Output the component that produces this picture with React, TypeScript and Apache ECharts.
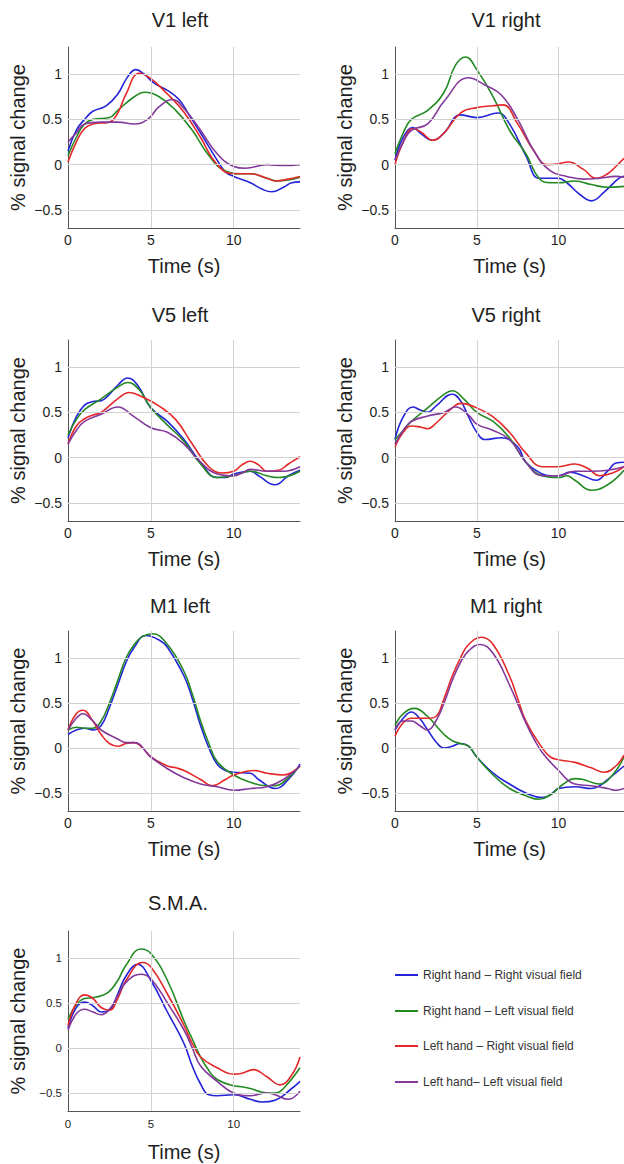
import { useEffect, useRef } from "react";
import * as echarts from "echarts";

const SERIES_NAMES = [
  "Right hand – Right visual field",
  "Right hand – Left visual field",
  "Left hand – Right visual field",
  "Left hand– Left visual field",
];
const SERIES_COLORS = ["#2424d8", "#238a23", "#e42828", "#83389a"];

const PANEL_TITLES = ["V1 left", "V1 right", "V5 left", "V5 right", "M1 left", "M1 right", "S.M.A."];
const Y_TICKS = [-0.5, 0, 0.5, 1];
const X_GRID = [5, 10];

// [time (s), % signal change]
const V1L_BLUE = [[0,0.15],[0.5,0.38],[1,0.5],[1.5,0.59],[2.3,0.65],[3,0.78],[3.6,0.97],[4.1,1.05],[4.6,1.0],[5.2,0.9],[6,0.82],[6.7,0.72],[7.3,0.55],[8,0.35],[9,0.05],[9.5,-0.08],[10,-0.13],[11,-0.2],[11.7,-0.27],[12.3,-0.3],[13,-0.25],[13.5,-0.2],[14,-0.19]];
const V1L_GREEN = [[0,0.1],[0.5,0.3],[1,0.45],[1.5,0.5],[2.5,0.52],[3,0.6],[4,0.75],[4.6,0.8],[5.5,0.75],[6.5,0.6],[7.5,0.38],[8.5,0.1],[9.5,-0.07],[10.5,-0.1],[11,-0.1],[12,-0.15],[12.6,-0.18],[13.3,-0.17],[14,-0.14]];
const V1L_RED = [[0,0.03],[0.5,0.25],[1,0.4],[1.5,0.45],[2.5,0.47],[3,0.57],[3.5,0.78],[4.3,1.01],[5,0.95],[6,0.78],[7,0.58],[8,0.3],[9,0.0],[10,-0.1],[11,-0.1],[12,-0.15],[12.5,-0.18],[13.3,-0.16],[14,-0.13]];
const V1L_PURPLE = [[0,0.25],[0.5,0.35],[1,0.45],[2,0.47],[3,0.47],[4,0.45],[4.8,0.5],[5.5,0.64],[6.3,0.72],[7,0.62],[8,0.38],[9,0.12],[10,-0.02],[10.7,-0.04],[12,0.0],[13,-0.01],[14,0.0]];

const V1R_BLUE = [[0,0.05],[0.5,0.3],[1.1,0.41],[1.6,0.34],[2.3,0.27],[3,0.35],[4,0.55],[5,0.52],[6.3,0.57],[7,0.45],[8,0.1],[8.8,-0.15],[9.5,-0.15],[10,-0.15],[10.5,-0.2],[11.3,-0.33],[12,-0.4],[12.8,-0.3],[13.7,-0.15],[14,-0.13]];
const V1R_GREEN = [[0,0.12],[0.5,0.35],[1,0.5],[2,0.6],[3,0.8],[3.7,1.1],[4.3,1.19],[5,1.05],[6,0.75],[7,0.38],[8,0.12],[8.8,-0.15],[9.5,-0.2],[10,-0.2],[11,-0.18],[12,-0.22],[13,-0.25],[14,-0.24]];
const V1R_RED = [[0,0.0],[0.5,0.25],[1.1,0.4],[1.6,0.36],[2.3,0.27],[3,0.35],[4,0.57],[5,0.63],[6,0.65],[6.6,0.66],[7.5,0.45],[8.5,0.15],[9.3,0.0],[10,0.01],[10.6,0.03],[11.5,-0.05],[12.3,-0.15],[13,-0.1],[13.5,-0.02],[14,0.07]];
const V1R_PURPLE = [[0,0.05],[0.5,0.25],[1,0.38],[2,0.45],[3,0.7],[4.5,0.96],[5.5,0.88],[6.5,0.77],[7.5,0.5],[8.5,0.15],[9.5,-0.07],[10.5,-0.13],[11.5,-0.16],[12.5,-0.15],[13.5,-0.13],[14,-0.14]];

const V5L_BLUE = [[0,0.22],[0.5,0.45],[1,0.58],[1.5,0.62],[2,0.63],[2.5,0.7],[3,0.8],[3.6,0.88],[4.2,0.8],[5,0.55],[6,0.4],[7,0.2],[8,-0.05],[9,-0.22],[9.5,-0.22],[10,-0.18],[11,-0.15],[11.5,-0.2],[12.5,-0.3],[13.3,-0.2],[14,-0.14]];
const V5L_GREEN = [[0,0.25],[0.5,0.42],[1,0.53],[2,0.65],[3,0.78],[3.6,0.83],[4.3,0.75],[5,0.55],[6,0.36],[7,0.18],[8,-0.07],[9,-0.22],[10,-0.2],[11,-0.15],[12,-0.2],[12.7,-0.22],[14,-0.15]];
const V5L_RED = [[0,0.15],[0.5,0.35],[1,0.43],[1.5,0.47],[2,0.5],[3,0.65],[3.7,0.72],[4.5,0.67],[5.5,0.57],[6.5,0.42],[7.5,0.15],[8.5,-0.1],[9.3,-0.17],[10,-0.15],[10.5,-0.08],[11,-0.04],[11.5,-0.08],[12,-0.15],[12.7,-0.14],[13.3,-0.07],[14,0.01]];
const V5L_PURPLE = [[0,0.15],[0.5,0.3],[1,0.4],[2,0.48],[3,0.56],[4,0.45],[5,0.33],[6,0.28],[7,0.15],[8,-0.05],[9,-0.18],[10,-0.2],[10.5,-0.17],[11,-0.13],[12,-0.15],[13,-0.15],[14,-0.1]];

const V5R_BLUE = [[0,0.2],[0.5,0.45],[1.1,0.56],[1.5,0.53],[2,0.5],[2.5,0.57],[3.5,0.7],[4,0.63],[4.5,0.45],[5,0.28],[5.5,0.2],[6.5,0.22],[7.5,0.12],[8,-0.05],[9,-0.18],[9.5,-0.2],[10,-0.2],[10.7,-0.16],[11.5,-0.2],[12.3,-0.25],[13,-0.15],[13.5,-0.06],[14,-0.05]];
const V5R_GREEN = [[0,0.2],[0.5,0.3],[1,0.4],[2,0.55],[3,0.7],[3.5,0.74],[4.2,0.65],[5,0.5],[6,0.4],[7,0.22],[8,-0.05],[9,-0.2],[10,-0.22],[10.5,-0.2],[11,-0.25],[12,-0.36],[13,-0.3],[14,-0.14]];
const V5R_RED = [[0,0.12],[0.5,0.28],[1,0.35],[1.5,0.34],[2,0.32],[2.5,0.38],[3.5,0.55],[4,0.6],[5,0.55],[6,0.45],[7,0.28],[8,0.05],[9,-0.1],[10,-0.1],[11,-0.07],[11.8,-0.12],[12.5,-0.2],[13.3,-0.17],[14,-0.1]];
const V5R_PURPLE = [[0,0.15],[0.5,0.3],[1,0.4],[2,0.46],[3,0.5],[3.7,0.56],[4.5,0.47],[5,0.37],[6,0.3],[7,0.2],[8,-0.05],[9,-0.2],[10,-0.2],[11,-0.15],[12,-0.15],[13,-0.14],[14,-0.1]];

const M1L_BLUE = [[0,0.15],[0.5,0.2],[1,0.22],[1.5,0.2],[2,0.25],[2.5,0.45],[3,0.7],[3.5,0.95],[4,1.12],[4.7,1.25],[5.5,1.2],[6,1.12],[7,0.8],[7.5,0.55],[8,0.25],[8.5,0.0],[9,-0.18],[9.5,-0.25],[10,-0.27],[11,-0.28],[11.5,-0.35],[12.5,-0.45],[13.3,-0.35],[14,-0.18]];
const M1L_GREEN = [[0,0.2],[0.5,0.23],[1,0.22],[1.5,0.22],[2,0.3],[2.5,0.5],[3,0.75],[3.5,1.0],[4,1.15],[4.5,1.24],[5.1,1.27],[6,1.15],[7,0.85],[7.5,0.6],[8,0.3],[8.5,0.05],[9,-0.15],[10,-0.3],[11,-0.38],[12,-0.42],[12.5,-0.42],[13,-0.38],[14,-0.2]];
const M1L_RED = [[0,0.2],[0.5,0.38],[0.9,0.42],[1.5,0.3],[2,0.15],[2.5,0.05],[3,0.02],[3.5,0.05],[4,0.06],[4.5,0.0],[5,-0.1],[6,-0.2],[6.5,-0.22],[7,-0.25],[8,-0.35],[8.7,-0.42],[9.5,-0.35],[10,-0.3],[11.2,-0.25],[12,-0.28],[13,-0.3],[14,-0.2]];
const M1L_PURPLE = [[0,0.2],[0.5,0.33],[0.9,0.38],[1.5,0.3],[2,0.2],[3,0.1],[3.5,0.06],[4,0.06],[5,-0.1],[6,-0.23],[7,-0.33],[8,-0.4],[9,-0.43],[10,-0.47],[11,-0.45],[12,-0.43],[13,-0.35],[14,-0.2]];

const M1R_BLUE = [[0,0.2],[0.5,0.33],[1,0.4],[1.5,0.33],[2,0.2],[2.5,0.07],[3,0.0],[3.5,0.02],[4,0.05],[4.5,0.02],[5,-0.1],[6,-0.28],[7,-0.4],[8,-0.5],[9,-0.55],[9.5,-0.52],[10,-0.45],[11,-0.43],[12,-0.45],[12.5,-0.42],[13,-0.35],[14,-0.2]];
const M1R_GREEN = [[0,0.25],[0.5,0.38],[1.2,0.44],[2,0.35],[2.5,0.25],[3,0.15],[3.5,0.08],[4,0.05],[4.5,0.02],[5,-0.1],[6,-0.3],[7,-0.45],[8,-0.53],[8.8,-0.57],[9.5,-0.52],[10.3,-0.4],[11,-0.34],[11.5,-0.35],[12.5,-0.4],[13.3,-0.3],[14,-0.1]];
const M1R_RED = [[0,0.13],[0.5,0.28],[1,0.33],[1.5,0.33],[2,0.33],[2.5,0.35],[3,0.55],[3.5,0.8],[4,1.0],[4.5,1.15],[5.3,1.23],[6,1.15],[7,0.8],[7.5,0.55],[8,0.3],[9,0.0],[9.5,-0.1],[10,-0.13],[11,-0.16],[12,-0.22],[12.8,-0.27],[13.5,-0.2],[14,-0.08]];
const M1R_PURPLE = [[0,0.2],[0.5,0.3],[1,0.3],[1.5,0.25],[2,0.2],[2.5,0.3],[3,0.5],[3.5,0.75],[4,0.95],[4.5,1.08],[5.2,1.15],[6,1.05],[7,0.7],[8,0.28],[8.5,0.1],[9,-0.05],[10,-0.25],[11,-0.4],[12,-0.42],[13,-0.45],[13.5,-0.47],[14,-0.45]];

const SMA_BLUE = [[0,0.22],[0.5,0.45],[1,0.51],[1.5,0.47],[2,0.4],[2.5,0.42],[3,0.6],[3.5,0.8],[4.2,0.93],[5,0.75],[6,0.4],[7,0.05],[7.5,-0.2],[8,-0.4],[8.5,-0.52],[9,-0.53],[10,-0.52],[11,-0.57],[11.7,-0.6],[12.5,-0.58],[13.5,-0.45],[14,-0.37]];
const SMA_GREEN = [[0,0.32],[0.5,0.48],[1,0.55],[1.5,0.56],[2,0.58],[2.5,0.63],[3,0.75],[3.5,0.92],[4.4,1.1],[5,1.05],[6,0.75],[7,0.3],[7.5,0.1],[8,-0.1],[8.5,-0.25],[9,-0.35],[10,-0.42],[10.5,-0.43],[11,-0.45],[12,-0.5],[12.5,-0.5],[13,-0.45],[14,-0.22]];
const SMA_RED = [[0,0.25],[0.5,0.5],[1,0.59],[1.5,0.55],[2,0.45],[2.5,0.42],[3,0.55],[3.5,0.75],[4.5,0.95],[5,0.9],[6,0.6],[7,0.25],[7.5,0.05],[8,-0.1],[9,-0.22],[10,-0.29],[10.5,-0.28],[11.2,-0.24],[12,-0.32],[12.8,-0.41],[13.5,-0.3],[14,-0.1]];
const SMA_PURPLE = [[0,0.2],[0.5,0.38],[1,0.43],[1.5,0.4],[2,0.37],[2.5,0.43],[3,0.58],[3.5,0.73],[4.4,0.82],[5,0.77],[6,0.5],[7,0.2],[7.5,0.0],[8,-0.2],[9,-0.37],[10,-0.5],[11,-0.53],[12,-0.5],[12.5,-0.52],[13.3,-0.57],[14,-0.48]];

const PANEL_CURVES = [
  [V1L_BLUE, V1L_GREEN, V1L_RED, V1L_PURPLE],
  [V1R_BLUE, V1R_GREEN, V1R_RED, V1R_PURPLE],
  [V5L_BLUE, V5L_GREEN, V5L_RED, V5L_PURPLE],
  [V5R_BLUE, V5R_GREEN, V5R_RED, V5R_PURPLE],
  [M1L_BLUE, M1L_GREEN, M1L_RED, M1L_PURPLE],
  [M1R_BLUE, M1R_GREEN, M1R_RED, M1R_PURPLE],
  [SMA_BLUE, SMA_GREEN, SMA_RED, SMA_PURPLE],
];

const FONT = "'Liberation Sans', Arial, Helvetica, sans-serif";
const TEXT_COLOR = "#1e1e1e";

// layout (pixels)
const GRID_W = 232;
const GRID_BOXES = [
  { left: 68, top: 47, height: 181 },
  { left: 395, top: 47, height: 181 },
  { left: 68, top: 340, height: 181 },
  { left: 395, top: 340, height: 181 },
  { left: 68, top: 631, height: 180 },
  { left: 395, top: 631, height: 180 },
  { left: 68, top: 931, height: 180 },
];
const TITLE_POS = [
  [180, 20], [506, 20], [180, 315], [506, 315], [180, 606], [506, 606], [178, 903],
];

function fmtY(v: number) {
  const d = v * 2;
  if (Math.abs(d - Math.round(d)) > 1e-6) return "";
  const r = Math.round(d) / 2;
  if (Y_TICKS.indexOf(r) < 0) return "";
  if (r === 0) return "0";
  return (r < 0 ? "\u2212" : "") + String(Math.abs(r));
}

export default function App() {
  const ref = useRef<HTMLDivElement>(null);

  useEffect(() => {
    if (!ref.current) return;
    const chart = echarts.init(ref.current, undefined, { renderer: "svg" });

    const grid: any[] = [];
    const xAxis: any[] = [];
    const yAxis: any[] = [];
    const series: any[] = [];
    const graphic: any[] = [];

    PANEL_CURVES.forEach((curves, i) => {
      const box = GRID_BOXES[i];
      const small = i === 6;
      grid.push({ left: box.left, top: box.top, width: GRID_W, height: box.height, containLabel: false });
      xAxis.push({
        gridIndex: i,
        type: "value",
        min: 0,
        max: 14,
        interval: 5,
        name: "Time (s)",
        nameLocation: "middle",
        nameGap: small ? 31 : 28,
        nameTextStyle: { fontSize: 20, color: TEXT_COLOR, fontFamily: FONT },
        axisLine: { show: true, onZero: false, lineStyle: { color: "#555", width: 1 } },
        axisTick: { show: false },
        splitLine: { show: false },
        axisLabel: {
          showMaxLabel: false,
          fontSize: small ? 11.5 : 14,
          color: TEXT_COLOR,
          fontFamily: FONT,
          margin: small ? 7 : 5,
        },
      });
      yAxis.push({
        gridIndex: i,
        type: "value",
        min: -0.7,
        max: 1.3,
        interval: 0.1,
        name: "% signal change",
        nameLocation: "middle",
        nameGap: 40,
        nameTextStyle: { fontSize: 20, color: TEXT_COLOR, fontFamily: FONT },
        axisLine: { show: true, lineStyle: { color: "#555", width: 1 } },
        axisTick: { show: false },
        splitLine: { show: false },
        axisLabel: {
          formatter: fmtY,
          fontSize: small ? 11.5 : 14,
          color: TEXT_COLOR,
          fontFamily: FONT,
          margin: 6,
        },
      });
      series.push({
        name: "grid-" + i,
        type: "line",
        xAxisIndex: i,
        yAxisIndex: i,
        data: [],
        z: 1,
        silent: true,
        markLine: {
          silent: true,
          symbol: "none",
          animation: false,
          label: { show: false },
          emphasis: { disabled: true },
          lineStyle: { color: "#d2d2d2", width: 1, type: "solid" },
          data: [
            ...Y_TICKS.map((v) => ({ yAxis: v })),
            ...X_GRID.map((v) => ({ xAxis: v })),
          ],
        },
      });
      curves.forEach((data, k) => {
        series.push({
          name: SERIES_NAMES[k],
          type: "line",
          xAxisIndex: i,
          yAxisIndex: i,
          data,
          smooth: 0.45,
          symbol: "none",
          showSymbol: false,
          z: 2,
          lineStyle: { color: SERIES_COLORS[k], width: 1.6 },
          itemStyle: { color: SERIES_COLORS[k] },
          emphasis: { disabled: true },
        });
      });
      const [tx, ty] = TITLE_POS[i];
      graphic.push({
        type: "text",
        x: tx,
        y: ty,
        silent: true,
        style: {
          text: PANEL_TITLES[i],
          fontSize: 20,
          fontFamily: FONT,
          fill: TEXT_COLOR,
          align: "center",
          verticalAlign: "middle",
        },
      });
    });

    const legend = SERIES_NAMES.map((n, k) => ({
      data: [n],
      left: 390,
      top: 964 + Math.round(k * 35.7),
      orient: "vertical",
      icon: "rect",
      itemWidth: 23,
      itemHeight: 2,
      selectedMode: false,
      textStyle: { fontSize: 12, color: "#333", fontFamily: FONT },
    }));

    chart.setOption({
      animation: false,
      backgroundColor: "#ffffff",
      textStyle: { fontFamily: FONT },
      grid,
      xAxis,
      yAxis,
      series,
      legend,
      graphic,
    });

    return () => chart.dispose();
  }, []);

  return (
    <div
      ref={ref}
      style={{
        position: "absolute",
        left: 0,
        top: 0,
        width: 624,
        height: 1164,
        overflow: "hidden",
        background: "#fff",
      }}
    />
  );
}
